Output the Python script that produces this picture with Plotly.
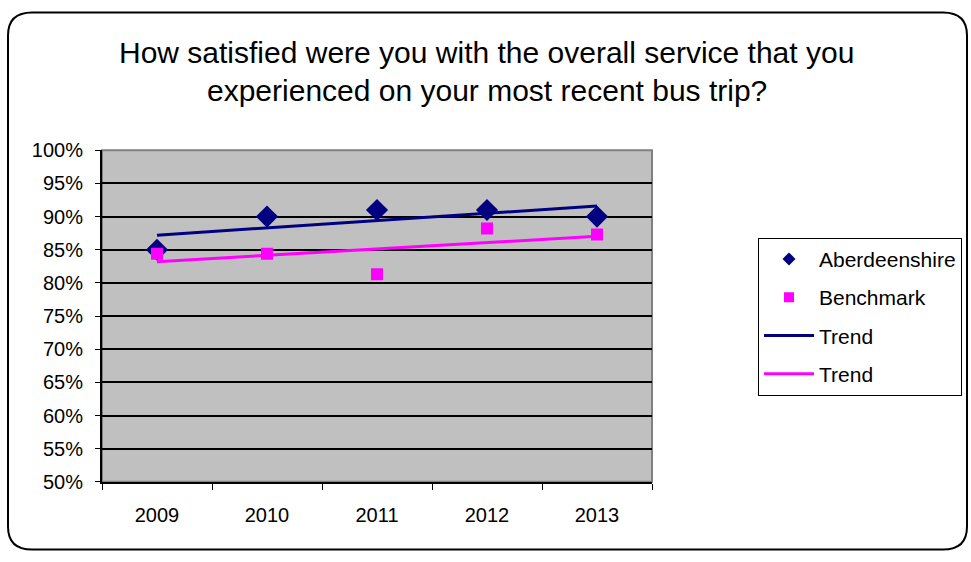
import numpy as np
import plotly.graph_objects as go

# Survey results (% satisfied)
years = ["2009", "2010", "2011", "2012", "2013"]
aberdeenshire = [85.0, 90.0, 91.0, 91.0, 90.0]
benchmark = [84.4, 84.4, 81.3, 88.2, 87.3]
y_ticks = [50, 55, 60, 65, 70, 75, 80, 85, 90, 95, 100]
y_tick_labels = [f"{v}%" for v in y_ticks]

NAVY = "#000080"
MAGENTA = "#FF00FF"
FONT = "Liberation Sans, Arial, sans-serif"
W, H = 971, 562


def linear_trend(values):
    idx = np.arange(len(values))
    slope, intercept = np.polyfit(idx, values, 1)
    return list(intercept + slope * idx)


def px_x(x):
    return x / W


def px_y(y):
    return 1 - y / H


fig = go.Figure()

# data markers
fig.add_trace(go.Scatter(
    x=years, y=aberdeenshire, mode="markers", name="Aberdeenshire",
    marker=dict(symbol="diamond", size=17, color=NAVY), showlegend=False))
fig.add_trace(go.Scatter(
    x=years, y=benchmark, mode="markers", name="Benchmark",
    marker=dict(symbol="square", size=12, color=MAGENTA), showlegend=False))
# linear trend lines
fig.add_trace(go.Scatter(
    x=years, y=linear_trend(aberdeenshire), mode="lines", name="Trend",
    line=dict(color=NAVY, width=3), showlegend=False))
fig.add_trace(go.Scatter(
    x=years, y=linear_trend(benchmark), mode="lines", name="Trend",
    line=dict(color=MAGENTA, width=3), showlegend=False))

# legend entries
legend_items = [
    dict(name="Aberdeenshire", mode="markers", marker=dict(symbol="diamond", size=10, color=NAVY)),
    dict(name="Benchmark", mode="markers", marker=dict(symbol="square", size=10, color=MAGENTA)),
    dict(name="Trend", mode="lines", line=dict(color=NAVY, width=3)),
    dict(name="Trend", mode="lines", line=dict(color=MAGENTA, width=3)),
]
for i, item in enumerate(legend_items):
    fig.add_trace(go.Scatter(x=[None], y=[None], legendgroup=f"g{i}",
                             showlegend=True, **item))

# rounded outer frame of the chart
L, T, R, B, r = 8, 1.5, 967, 560.5, 24
path = (
    f"M {px_x(L + r)} {px_y(T)} L {px_x(R - r)} {px_y(T)} "
    f"Q {px_x(R)} {px_y(T)} {px_x(R)} {px_y(T + r)} "
    f"L {px_x(R)} {px_y(B - r)} "
    f"Q {px_x(R)} {px_y(B)} {px_x(R - r)} {px_y(B)} "
    f"L {px_x(L + r)} {px_y(B)} "
    f"Q {px_x(L)} {px_y(B)} {px_x(L)} {px_y(B - r)} "
    f"L {px_x(L)} {px_y(T + r)} "
    f"Q {px_x(L)} {px_y(T)} {px_x(L + r)} {px_y(T)} Z"
)

plot_left, plot_right, plot_top, plot_bottom = 102, 652, 145, 490

fig.update_layout(
    width=W, height=H,
    margin=dict(l=0, r=0, t=0, b=0),
    paper_bgcolor="white",
    plot_bgcolor="#C0C0C0",
    font=dict(family=FONT, color="black", size=20),
    showlegend=True,
    legend=dict(
        x=px_x(758), y=px_y(236), xanchor="left", yanchor="top",
        bordercolor="black", borderwidth=1, bgcolor="white",
        font=dict(family=FONT, size=21, color="black"),
        traceorder="grouped", tracegroupgap=8,
        itemwidth=50, entrywidth=150,
    ),
    xaxis=dict(
        type="category", domain=[px_x(plot_left), px_x(plot_right)],
        range=[-0.5, 4.5],
        showgrid=False, showline=True, linecolor="black", linewidth=2,
        ticks="outside", tickson="boundaries", ticklen=6, tickcolor="black",
        tickwidth=1, ticklabelstandoff=14,
        tickfont=dict(family=FONT, size=20, color="black"),
    ),
    yaxis=dict(
        domain=[px_y(plot_bottom), px_y(plot_top)],
        range=[50, 100], tickvals=y_ticks, ticktext=y_tick_labels,
        showgrid=True, gridcolor="black", gridwidth=1.5,
        showline=True, linecolor="black", linewidth=2, zeroline=False,
        ticks="outside", ticklen=5, tickcolor="black", tickwidth=1,
        ticklabelstandoff=8,
        tickfont=dict(family=FONT, size=20, color="black"),
    ),
    shapes=[
        dict(type="rect", xref="x domain", yref="y domain", x0=0, x1=1, y0=0, y1=1,
             line=dict(color="#808080", width=2), layer="below"),
        dict(type="path", xref="paper", yref="paper", path=path,
             line=dict(color="black", width=2), layer="above"),
    ],
    annotations=[
        dict(text="How satisfied were you with the overall service that you",
             x=px_x(487), y=px_y(43), xref="paper", yref="paper",
             xanchor="center", yanchor="middle",
             showarrow=False, font=dict(family=FONT, size=30, color="black")),
        dict(text="experienced on your most recent bus trip?",
             x=px_x(487), y=px_y(83), xref="paper", yref="paper",
             xanchor="center", yanchor="middle",
             showarrow=False, font=dict(family=FONT, size=30, color="black")),
    ],
)

fig.write_html("out.html")
